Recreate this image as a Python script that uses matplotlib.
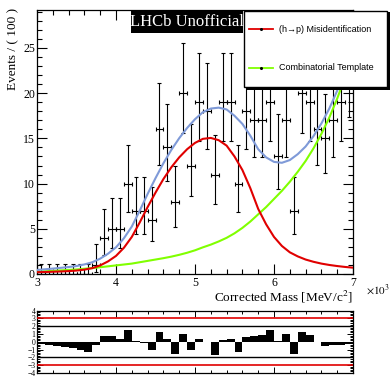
import numpy as np
import matplotlib
matplotlib.use("Agg")
import matplotlib.pyplot as plt
from matplotlib.patches import Rectangle
from matplotlib.lines import Line2D
from matplotlib.ticker import MultipleLocator

plt.rcParams['font.family'] = ['Liberation Serif', 'DejaVu Serif']
plt.rcParams['mathtext.fontset'] = 'stix'

# corrected mass, x10^3 MeV/c^2, 40 bins of 100 MeV
bin_lo = 3.0
bin_w = 0.1
counts = [0, 0, 0, 0, 0, 0, 0, 1, 4, 5, 5, 10, 7, 7, 6, 16, 14, 8, 20, 12,
          19, 18, 11, 19, 19, 10, 18, 17, 17, 19, 13, 17, 7, 20, 19, 16, 15, 17, 19, 22]
pulls = [-0.35, -0.45, -0.55, -0.65, -0.8, -1.0, -1.35, -0.4, 0.75, 0.8,
         0.4, 1.5, 0.15, -0.2, -1.0, 1.2, 0.3, -1.6, 0.95, -1.0,
         0.3, 0.0, -1.65, 0.2, 0.35, -1.35, 0.6, 0.7, 0.9, 1.45,
         0.1, 1.05, -1.6, 1.3, 0.85, 0.0, -0.5, -0.4, -0.4, -0.3]

# fitted pdf curves, read every 100 MeV from 3.0 to 7.0
curve_x = [3.0, 3.1, 3.2, 3.3, 3.4, 3.5, 3.6, 3.7, 3.8, 3.9, 4.0, 4.1, 4.2, 4.3,
           4.4, 4.5, 4.6, 4.7, 4.8, 4.9, 5.0, 5.1, 5.2, 5.3, 5.4, 5.5, 5.6, 5.7,
           5.8, 5.9, 6.0, 6.1, 6.2, 6.3, 6.4, 6.5, 6.6, 6.7, 6.8, 6.9, 7.0]
misid = [0.2, 0.22, 0.25, 0.28, 0.32, 0.38, 0.48, 0.65, 0.95, 1.4, 2.0, 2.9, 4.1, 5.7,
         7.4, 9.0, 10.5, 11.8, 12.9, 13.8, 14.5, 14.95, 15.05, 14.8, 14.2, 13.0, 11.5, 9.5,
         7.2, 5.5, 4.1, 3.1, 2.4, 1.95, 1.6, 1.35, 1.15, 1.0, 0.88, 0.78, 0.7]
comb = [0.25, 0.3, 0.35, 0.4, 0.45, 0.5, 0.58, 0.65, 0.75, 0.85, 0.95, 1.05, 1.15, 1.3,
        1.45, 1.6, 1.75, 1.92, 2.12, 2.35, 2.62, 2.95, 3.25, 3.6, 4.0, 4.5, 5.1, 5.8,
        6.6, 7.4, 8.3, 9.2, 10.2, 11.3, 12.5, 13.9, 15.5, 17.3, 19.4, 21.8, 24.5]
total = [0.45, 0.52, 0.6, 0.68, 0.77, 0.88, 1.06, 1.3, 1.7, 2.25, 2.95, 3.95, 5.25, 7.0,
         8.85, 10.6, 12.25, 13.72, 15.02, 16.15, 17.12, 17.9, 18.3, 18.4, 18.2, 17.5, 16.6, 15.3,
         13.8, 12.9, 12.4, 12.3, 12.6, 13.25, 14.1, 15.25, 16.65, 18.3, 20.28, 22.58, 25.2]

# 68% poisson intervals (down, up) as drawn by RooFit
poisson_err = {0: (0.0, 1.148), 1: (0.827, 2.299), 4: (1.914, 3.162), 5: (2.158, 3.382),
               6: (2.377, 3.583), 7: (2.580, 3.770), 8: (2.768, 3.945), 10: (3.108, 4.267),
               11: (3.265, 4.416), 12: (3.415, 4.559), 13: (3.559, 4.696), 14: (3.698, 4.827),
               15: (3.832, 4.954), 16: (3.962, 5.077), 17: (4.087, 5.195), 18: (4.209, 5.311),
               19: (4.328, 5.423), 20: (4.443, 5.532), 22: (4.666, 5.741)}

red = '#e00000'
green = '#80ff00'
blue = '#7f9ad8'

W, H = 391, 377
fig = plt.figure(figsize=(W / 100, H / 100), dpi=100)

# main frame
ax = fig.add_axes([37 / W, 1 - 274 / H, 316 / W, 264 / H])
centers = bin_lo + bin_w * (np.arange(len(counts)) + 0.5)
err_lo = [poisson_err[n][0] for n in counts]
err_hi = [poisson_err[n][1] for n in counts]
ax.errorbar(centers, counts, xerr=bin_w / 2, yerr=[err_lo, err_hi], fmt='none',
            ecolor='black', elinewidth=0.8, capsize=1.5, capthick=0.8, zorder=2)
ax.plot(curve_x, comb, color=green, lw=1.5, zorder=3)
ax.plot(curve_x, misid, color=red, lw=1.5, zorder=3)
ax.plot(curve_x, total, color=blue, lw=1.5, zorder=4)
ax.set_xlim(3, 7)
ax.set_ylim(0, 29.2)
ax.set_xticks([3, 4, 5, 6, 7])
ax.xaxis.set_minor_locator(MultipleLocator(0.2))
ax.yaxis.set_major_locator(MultipleLocator(5))
ax.yaxis.set_minor_locator(MultipleLocator(1))
ax.tick_params(which='both', direction='in', top=True, right=True, labelsize=8.5, width=0.8)
ax.tick_params(which='major', length=7)
ax.tick_params(which='minor', length=3.5)
ax.tick_params(axis='y', pad=1.5)
ax.tick_params(axis='x', pad=2.5)
for s in ax.spines.values():
    s.set_linewidth(0.9)

fig.text(13 / W, 1 - 8 / H, 'Events / ( 100 )', rotation=90, ha='center', va='top', fontsize=9.5)
fig.text(353 / W, 1 - 297 / H, 'Corrected Mass [MeV/c$^{2}$]', ha='right', va='center', fontsize=9.5)
fig.text(366 / W, 1 - 290 / H, r'$\times10^{3}$', ha='left', va='center', fontsize=8)

# LHCb tag
fig.patches.append(Rectangle((131 / W, 1 - 33 / H), 112 / W, 23 / H, transform=fig.transFigure,
                             facecolor='black', edgecolor='none', zorder=5))
fig.text(187 / W, 1 - 21.5 / H, 'LHCb Unofficial', color='white', ha='center', va='center',
         fontsize=12, zorder=6)

# legend box with shadow
fig.patches.append(Rectangle((247 / W, 1 - 89.5 / H), 143 / W, 77 / H, transform=fig.transFigure,
                             facecolor='black', edgecolor='none', zorder=5))
fig.patches.append(Rectangle((244 / W, 1 - 87 / H), 143 / W, 76 / H, transform=fig.transFigure,
                             facecolor='white', edgecolor='black', lw=1.0, zorder=6))
legend_items = [('(h\u2192p) Misidentification', red, 29), ('Combinatorial Template', green, 68)]
for label, col, ypix in legend_items:
    fig.lines.append(Line2D([249 / W, 273 / W], [1 - ypix / H] * 2, transform=fig.transFigure,
                            color=col, lw=1.3, zorder=7))
    fig.lines.append(Line2D([261 / W], [1 - ypix / H], transform=fig.transFigure, marker='o',
                            ms=1.2, color='black', zorder=8))
    fig.text(279 / W, 1 - ypix / H, label, ha='left', va='center', fontsize=6.5,
             family=['Liberation Sans', 'DejaVu Sans'], zorder=8)

# pull frame
rax = fig.add_axes([37 / W, 4 / H, 316 / W, 62.5 / H])
rax.bar(centers, pulls, width=bin_w, color='black', lw=0, zorder=2)
for lev, col, lw in [(3, red, 1.2), (-3, red, 1.2), (2, 'black', 1.0), (-2, 'black', 1.0)]:
    rax.axhline(lev, color=col, lw=lw, zorder=3)
rax.set_xlim(3, 7)
rax.set_ylim(-4, 4)
rax.set_xticks([3, 4, 5, 6, 7])
rax.xaxis.set_minor_locator(MultipleLocator(0.2))
rax.yaxis.set_major_locator(MultipleLocator(1))
rax.yaxis.set_minor_locator(MultipleLocator(0.2))
rax.tick_params(which='both', direction='in', top=True, right=True, labelbottom=False,
                labelsize=5.5, width=0.7, pad=1)
rax.tick_params(which='major', length=4)
rax.tick_params(which='minor', length=2.5)
for s in rax.spines.values():
    s.set_linewidth(0.9)

fig.savefig('out.png', dpi=100)
